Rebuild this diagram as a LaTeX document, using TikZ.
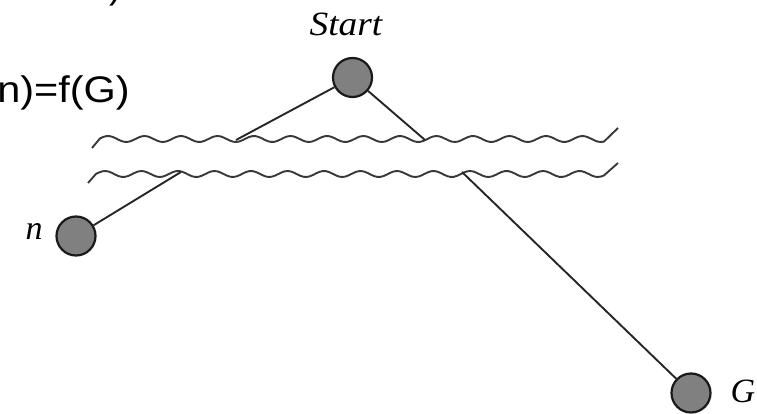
\documentclass[tikz,border=0pt]{standalone}
\usepackage{fontspec}
\setmainfont{Liberation Serif}
\newfontfamily\formfont{Liberation Sans}
\begin{document}
\begin{tikzpicture}[x=1pt,y=-1pt,
  state/.style={circle,draw=black!90,fill=black!50,line width=2.2pt,minimum size=39pt,inner sep=0pt},
  edgeline/.style={line width=1.9pt,draw=black!85},
  waveline/.style={line width=1.9pt,draw=black!78},
  lbl/.style={inner sep=0pt,font=\itshape\fontsize{34}{40}\selectfont},
  formula/.style={inner sep=0pt,font=\formfont\fontsize{37}{44}\selectfont}]
\useasboundingbox (0,0) rectangle (757,414);
\clip (0,0) rectangle (757,414);
% text fragments
\node[formula,anchor=base west] (paren) at (109,-1) {)};
\node[formula,anchor=base east,xscale=1.12] (f) at (130,103) {n)=f(G)};
% wavy lines
\draw[waveline] (92,148) -- plot[domain=100:604,samples=160,smooth] (\x,{139-3*cos(9.863*(\x-108))}) -- (618,128);
\draw[waveline] (88,183) -- plot[domain=96:604,samples=160,smooth] (\x,{174-3*cos(9.863*(\x-105))}) -- (618,163);
% nodes
\node[state] (start) at (352.5,77.5) {};
\node[state] (n) at (76,236) {};
\node[state] (g) at (691,393) {};
\node[lbl,xscale=1.1] (startlbl) at (346,24) {Start};
\node[lbl] (nlbl) at (34,231) {n};
\node[lbl] (glbl) at (743,391) {G};
% connector ends on the wavy lines
\coordinate (a1) at (236,140);
\coordinate (a2) at (181,172);
\coordinate (b1) at (425,140);
\coordinate (b2) at (462,172);
\draw[edgeline] (start) -- (a1);
\draw[edgeline] (a2) -- (n);
\draw[edgeline] (start) -- (b1);
\draw[edgeline] (b2) -- (g);
\end{tikzpicture}
\end{document}
